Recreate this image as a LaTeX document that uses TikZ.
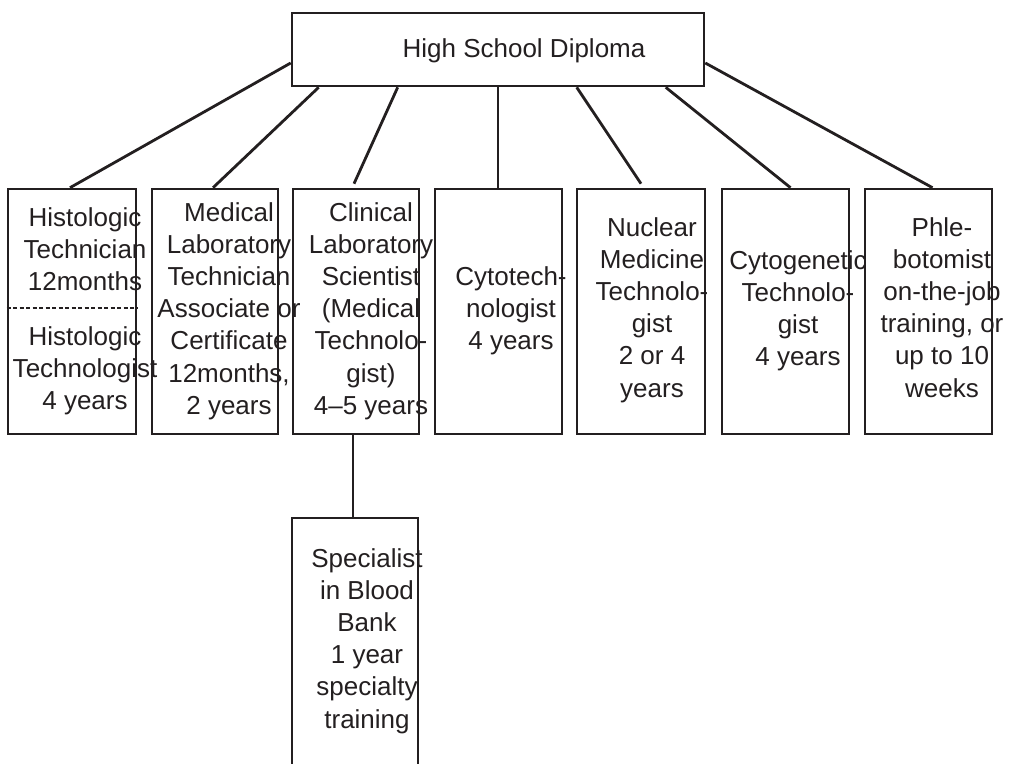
\documentclass[tikz,border=0pt]{standalone}
\usepackage{fontspec}
\setmainfont{Liberation Sans}
\definecolor{ink}{HTML}{231F20}
\begin{document}
\begin{tikzpicture}[x=1pt,y=-1pt,
  boxn/.style={draw=ink, line width=2.6pt, inner sep=0pt, minimum height=245pt},
  txt/.style={text=ink, font=\fontsize{26}{32.2}\selectfont, align=center, inner sep=0pt,
    anchor=north, execute at begin node={\rule{0pt}{20pt}}},
  conn/.style={draw=ink, line width=2.8pt},
  sep/.style={draw=ink, line width=1.2pt, dash pattern=on 4pt off 2.5pt}]
\useasboundingbox (0,0) rectangle (1016,763);
% texts
\node[text=ink, font=\fontsize{26}{32.2}\selectfont, inner sep=0pt, anchor=base] (ths) at (524,57) {High School Diploma};
\node[txt] (t1a) at (85,207) {Histologic\\Technician\\12months};
\node[txt] (t1b) at (85,326) {Histologic\\Technologist\\4 years};
\node[txt] (t2) at (229,202) {Medical\\Laboratory\\Technician\\Associate or\\Certificate\\12months,\\2 years};
\node[txt] (t3) at (371,202) {Clinical\\Laboratory\\Scientist\\(Medical\\Technolo-\\gist)\\4–5 years};
\node[txt] (t4) at (511,266) {Cytotech-\\nologist\\4 years};
\node[txt] (t5) at (652,217) {Nuclear\\Medicine\\Technolo-\\gist\\2 or 4\\years};
\node[txt] (t6) at (798,250) {Cytogenetic\\Technolo-\\gist\\4 years};
\node[txt] (t7) at (942,217) {Phle-\\botomist\\on-the-job\\training, or\\up to 10\\weeks};
\node[txt] (t8) at (367,548) {Specialist\\in Blood\\Bank\\1 year\\specialty\\training};
% boxes
\node[boxn, minimum width=412pt, minimum height=73pt] (hs) at (498,49.5) {};
\node[boxn, minimum width=128pt] (b1) at (72,311.5) {};
\node[boxn, minimum width=126pt] (b2) at (215,311.5) {};
\node[boxn, minimum width=126pt] (b3) at (356,311.5) {};
\node[boxn, minimum width=127pt] (b4) at (498.5,311.5) {};
\node[boxn, minimum width=128pt] (b5) at (641,311.5) {};
\node[boxn, minimum width=127pt] (b6) at (785.5,311.5) {};
\node[boxn, minimum width=127pt] (b7) at (928.5,311.5) {};
\node[boxn, minimum width=126pt, minimum height=270pt] (b8) at (355,653) {};
% dashed separator
\coordinate (dl) at (0,308);
\draw[sep] (b1.west |- dl) -- (b1.east |- dl);
% connectors
\draw[conn] ([yshift=-13.5pt]hs.west) -- ([xshift=-2pt]b1.north);
\draw[conn] ([xshift=28pt]hs.south west) -- ([xshift=-2pt]b2.north);
\draw[conn] ([xshift=107pt]hs.south west) -- ([xshift=-2pt,yshift=4pt]b3.north);
\draw[conn] (hs.south) -- (hs.south |- b4.north);
\draw[conn] ([xshift=286pt]hs.south west) -- ([yshift=4pt]b5.north);
\draw[conn] ([xshift=375pt]hs.south west) -- ([xshift=5pt]b6.north);
\draw[conn] ([yshift=-13.5pt]hs.east) -- ([xshift=4pt]b7.north);
\draw[conn] ([xshift=-3pt]b3.south) -- ([xshift=-2pt]b8.north);
\end{tikzpicture}
\end{document}
